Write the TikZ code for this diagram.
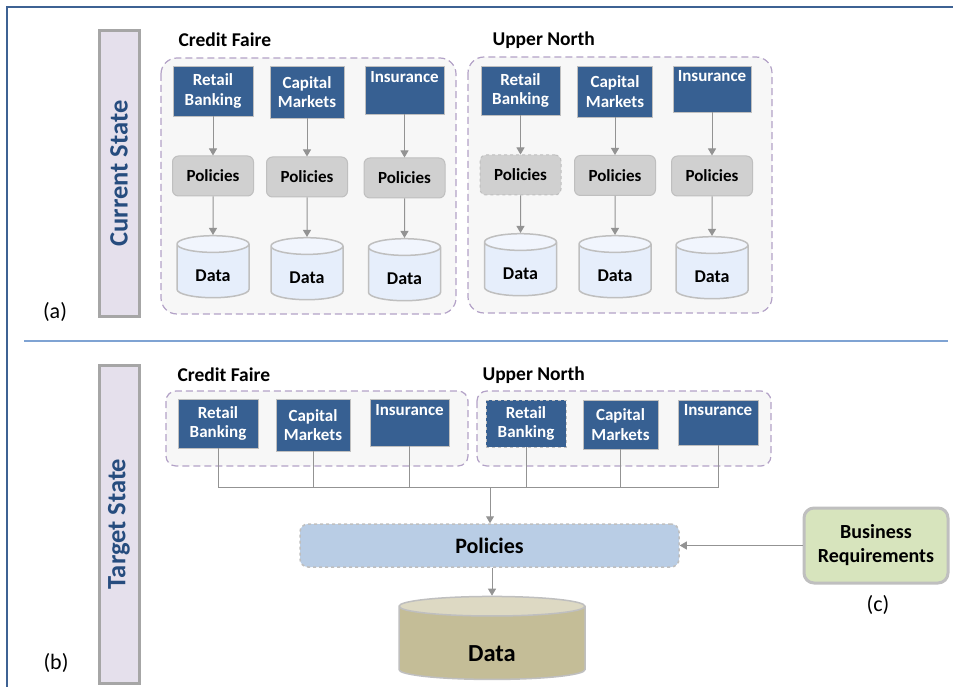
\documentclass[tikz,border=0pt]{standalone}
\usepackage{fontspec}
\setmainfont{Carlito}
\usetikzlibrary{shapes.geometric,arrows.meta}

\definecolor{unitblue}{HTML}{376092}
\definecolor{edgegray}{HTML}{BFBFBF}
\definecolor{polgray}{HTML}{D0D0D0}
\definecolor{datablue}{HTML}{E6EEFB}
\definecolor{datatop}{HTML}{F1F5FD}
\definecolor{groupline}{HTML}{B3A2C7}
\definecolor{groupfill}{HTML}{F7F7F7}
\definecolor{barfill}{HTML}{E5E0EC}
\definecolor{barline}{HTML}{A6A6A6}
\definecolor{bartext}{HTML}{264C7E}
\definecolor{linegray}{HTML}{939393}
\definecolor{bigpol}{HTML}{B9CDE5}
\definecolor{bigdata}{HTML}{C4BD97}
\definecolor{bigtop}{HTML}{DDD9C3}
\definecolor{reqgreen}{HTML}{D7E4BD}
\definecolor{rulemain}{HTML}{3E6293}
\definecolor{rulesub}{HTML}{7FA3D3}

\newcommand\lowered[2]{\raisebox{-#1}[\height][\depth]{#2}}

\tikzset{
  unit/.style={draw=edgegray,fill=unitblue,text=white,align=center,
    font=\fontsize{17}{19.5}\selectfont\bfseries,inner sep=2pt},
  policy/.style={draw=edgegray,fill=polgray,rounded corners=6pt,line width=1pt,
    font=\fontsize{17}{20}\selectfont\bfseries,minimum width=81pt,minimum height=40pt},
  store/.style={cylinder,shape border rotate=90,draw=edgegray,line width=1.5pt,
    cylinder uses custom fill,cylinder body fill=datablue,cylinder end fill=datatop,
    aspect=0.4,font=\fontsize{18}{21}\selectfont\bfseries,
    minimum width=72pt,minimum height=62pt},
  group/.style={draw=groupline,fill=groupfill,line width=1.2pt,
    dash pattern=on 7pt off 4pt},
  owner/.style={anchor=west,font=\fontsize{19.5}{23}\selectfont\bfseries},
  bar/.style={draw=barline,line width=3pt,fill=barfill,text=bartext,rotate=90,
    font=\fontsize{26.5}{30}\selectfont\bfseries,minimum height=40pt},
  tag/.style={font=\fontsize{22}{26}\selectfont},
  arr/.style={draw=linegray,line width=1pt,-{Triangle[width=8pt,length=7pt]}},
  bus/.style={draw=linegray,line width=0.9pt}
}

\begin{document}
\begin{tikzpicture}[x=1pt,y=-1pt]
  \useasboundingbox (0,0) rectangle (953,687);

  % frame and divider
  \draw[rulemain,line width=2.5pt] (953,7) -- (7,7) -- (7,687);
  \draw[rulesub,line width=1.5pt] (24,341) -- (948,341);

  % current state
  \node[bar,minimum width=285pt] (now) at (119,173.5) {Current State};
  \node[tag] (a) at (55,312) {(a)};

  \draw[group,rounded corners=16pt] (161,58) rectangle (456,314);
  \draw[group,rounded corners=16pt] (468,57) rectangle (772,313);
  \node[owner] (cf) at (175,40) {Credit Faire};
  \node[owner] (un) at (489,40) {Upper North};

  \begin{scope}[every node/.style=unit]
    \node[minimum width=80pt,minimum height=50pt] (cf1) at (213,91) {Retail\\Banking};
    \node[minimum width=74pt,minimum height=52pt] (cf2) at (307,92) {Capital\\Markets};
    \node[minimum width=79pt,minimum height=48pt] (cf3) at (404.5,90) {Insurance\\\strut};
    \node[minimum width=79pt,minimum height=49pt] (un1) at (520.5,90.5) {Retail\\Banking};
    \node[minimum width=75pt,minimum height=51pt] (un2) at (615,91.5) {Capital\\Markets};
    \node[minimum width=78pt,minimum height=46pt] (un3) at (712,89) {Insurance\\\strut};
  \end{scope}

  \begin{scope}[every node/.style=policy]
    \node (cfp1) at (213,176) {Policies};
    \node (cfp2) at (307,177) {Policies};
    \node (cfp3) at (404.5,178) {Policies};
    \node[dashed] (unp1) at (520.5,175) {Policies};
    \node (unp2) at (615,175.5) {Policies};
    \node (unp3) at (712,176) {Policies};
  \end{scope}

  \begin{scope}[every node/.style=store]
    \node (cfd1) at (213,273) {\lowered{3pt}{Data}};
    \node (cfd2) at (307,275) {\lowered{3pt}{Data}};
    \node (cfd3) at (404.5,276) {\lowered{3pt}{Data}};
    \node (und1) at (520.5,271) {\lowered{3pt}{Data}};
    \node (und2) at (615,273) {\lowered{3pt}{Data}};
    \node (und3) at (712,274) {\lowered{3pt}{Data}};
  \end{scope}

  \foreach \g in {cf,un}
    \foreach \i in {1,2,3} {
      \path[arr] (\g\i) -- (\g p\i);
      \path[arr] (\g p\i) -- (\g d\i);
    }

  % target state
  \node[bar,minimum width=318pt] (next) at (119,524) {Target State};
  \node[tag] (b) at (56,663) {(b)};

  \draw[group,rounded corners=10pt] (166,391) rectangle (468,466);
  \draw[group,rounded corners=10pt] (477,391) rectangle (771,466);
  \node[owner] (cft) at (174,375) {Credit Faire};
  \node[owner] (unt) at (479,375) {Upper North};

  \begin{scope}[every node/.style=unit]
    \node[minimum width=80pt,minimum height=49pt] (cft1) at (218,423.5) {Retail\\Banking};
    \node[minimum width=74pt,minimum height=52pt] (cft2) at (313,425) {Capital\\Markets};
    \node[minimum width=79pt,minimum height=47pt] (cft3) at (409.5,422.5) {Insurance\\\strut};
    \node[minimum width=80pt,minimum height=47pt,dashed] (unt1) at (526,423.5) {Retail\\Banking};
    \node[minimum width=75pt,minimum height=49pt] (unt2) at (620.5,424.5) {Capital\\Markets};
    \node[minimum width=80pt,minimum height=45pt] (unt3) at (718,422.5) {Insurance\\\strut};
  \end{scope}

  \node[draw=edgegray,fill=bigpol,dashed,line width=1.5pt,rounded corners=8pt,
    minimum width=379pt,minimum height=43pt,
    font=\fontsize{22}{26}\selectfont\bfseries] (pol) at (489.5,545.5) {Policies};
  \node[cylinder,shape border rotate=90,draw=edgegray,line width=1.5pt,
    cylinder uses custom fill,cylinder body fill=bigdata,cylinder end fill=bigtop,
    aspect=0.36,minimum width=186pt,minimum height=83pt,
    font=\fontsize{24.5}{28}\selectfont\bfseries] (data) at (492,644.5) {\lowered{9pt}{Data}};
  \node[draw=edgegray,fill=reqgreen,line width=3pt,rounded corners=10pt,align=center,
    minimum width=144pt,minimum height=75pt,
    font=\fontsize{20}{24}\selectfont\bfseries] (req) at (876,545.5) {Business\\Requirements};
  \node[tag] (c) at (878,605) {(c)};

  \coordinate (join) at (490,487);
  \foreach \n in {cft1,cft2,cft3,unt1,unt2,unt3}
    \path[bus] (\n) |- (join);
  \path[arr] (join) -- (join |- pol.north);
  \path[arr] (pol.south -| data) -- (data);
  \path[arr] (req) -- (pol);
\end{tikzpicture}
\end{document}
